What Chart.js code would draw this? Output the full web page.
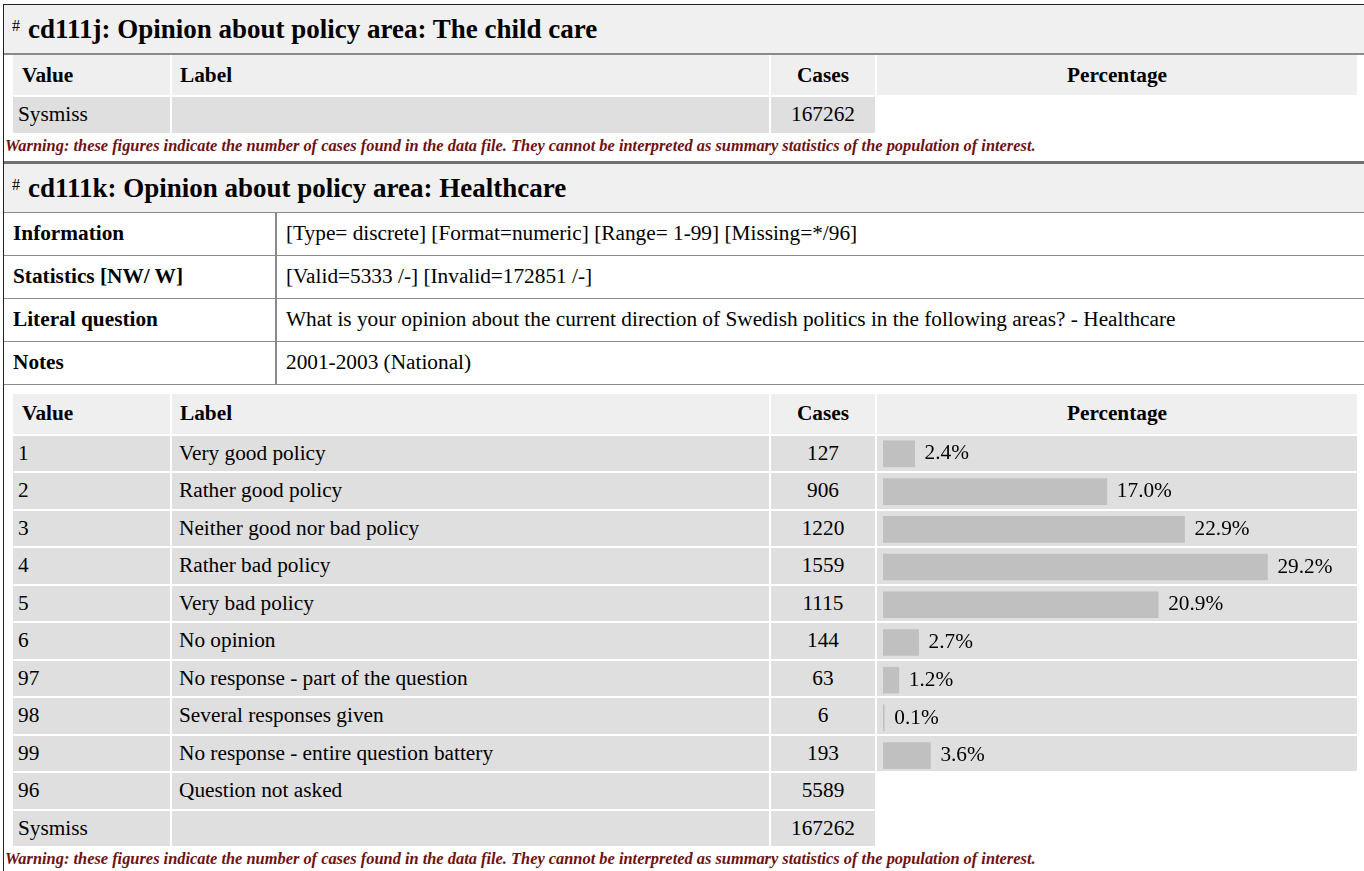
<!DOCTYPE html>
<html>
<head>
<meta charset="utf-8">
<script src="https://cdn.jsdelivr.net/npm/chart.js@4.4.1/dist/chart.umd.min.js"></script>
<style>
  html, body { margin: 0; padding: 0; background: #fff; overflow: hidden; }
  body { font-family: "Liberation Serif", "Times New Roman", serif; color: #000; width: 1364px; height: 871px; position: relative; }
  .box { position: absolute; left: 3px; top: 4px; width: 1363px; border: 1px solid #222; border-bottom: none; }
  .title { background: #f0f0f0; height: 48px; line-height: 48px; font-weight: bold; font-size: 27px; padding-left: 24px; position: relative; }
  .title .hash { position: absolute; left: 8px; top: -3px; font-size: 16px; font-weight: normal; }
  .t1 { border-bottom: 2px solid #8a8a8a; }
  .t2 { border-top: 3px solid #707070; border-bottom: 1px solid #8a8a8a; }
  .freq { border-collapse: collapse; margin-left: 9px; table-layout: fixed; }
  .freq td, .freq th { border-right: 2px solid #fff; border-bottom: 2px solid #fff; padding: 0; font-size: 21.3px; text-align: left; }
  .freq th { background: #efefef; height: 40px; font-weight: bold; }
  .freq td { background: #dfdfdf; height: 35.5px; }
  .freq td.nobg { background: transparent; }
  .freq th.c-val { padding-left: 9px; width: 148px; }
  .freq td.c-val { padding-left: 5px; width: 152px; }
  .freq th.c-lab { padding-left: 8px; width: 589px; }
  .freq td.c-lab { padding-left: 7px; width: 590px; }
  .freq .c-cas { width: 104px; text-align: center; }
  .freq .c-pct { width: 480px; text-align: center; border-right: none; }
  .warn { font-size: 16.4px; font-weight: bold; font-style: italic; color: #6e1212; padding-left: 1px; height: 26px; line-height: 22px; white-space: nowrap; }
  .info { border-collapse: collapse; width: 100%; }
  .info td { height: 42px; border-bottom: 1.5px solid #8a8a8a; font-size: 21.3px; padding: 0; }
  .info td.k { width: 262px; padding-left: 9px; font-weight: bold; border-right: 2px solid #8a8a8a; }
  .info td.v { padding-left: 9px; }
  .gap { height: 9px; }
  #pctChartWrap { position: absolute; }
</style>
</head>
<body>
<div class="box">
  <div class="title t1"><span class="hash">#</span>cd111j: Opinion about policy area: The child care</div>
  <table class="freq" id="tbl1"></table>
  <div class="warn">Warning: these figures indicate the number of cases found in the data file. They cannot be interpreted as summary statistics of the population of interest.</div>

  <div class="title t2"><span class="hash">#</span>cd111k: Opinion about policy area: Healthcare</div>
  <table class="info">
    <tr><td class="k">Information</td><td class="v">[Type= discrete] [Format=numeric] [Range= 1-99] [Missing=*/96]</td></tr>
    <tr><td class="k">Statistics [NW/ W]</td><td class="v">[Valid=5333 /-] [Invalid=172851 /-]</td></tr>
    <tr><td class="k">Literal question</td><td class="v">What is your opinion about the current direction of Swedish politics in the following areas? - Healthcare</td></tr>
    <tr><td class="k">Notes</td><td class="v">2001-2003 (National)</td></tr>
  </table>
  <div class="gap"></div>
  <table class="freq" id="tbl2"></table>
  <div class="warn">Warning: these figures indicate the number of cases found in the data file. They cannot be interpreted as summary statistics of the population of interest.</div>
</div>
<div id="pctChartWrap"><canvas id="pctChart"></canvas></div>

<script>
// Valid categories (with bars)
const codes = ['1', '2', '3', '4', '5', '6', '97', '98', '99'];
const labels = ['Very good policy', 'Rather good policy', 'Neither good nor bad policy', 'Rather bad policy',
  'Very bad policy', 'No opinion', 'No response - part of the question', 'Several responses given',
  'No response - entire question battery'];
const cases = [127, 906, 1220, 1559, 1115, 144, 63, 6, 193];
const percentages = [2.4, 17.0, 22.9, 29.2, 20.9, 2.7, 1.2, 0.1, 3.6];

// Missing categories (no bars)
const missCodes = ['96', 'Sysmiss'];
const missLabels = ['Question not asked', ''];
const missCases = [5589, 167262];

// child care variable only has sysmiss
const childCareMissCases = [167262];

const headerHtml = '<tr><th class="c-val">Value</th><th class="c-lab">Label</th><th class="c-cas">Cases</th><th class="c-pct">Percentage</th></tr>';

function rowHtml(code, label, n, withPct) {
    return `<tr><td class="c-val">${code}</td><td class="c-lab">${label}</td><td class="c-cas">${n}</td>` +
        `<td class="c-pct${withPct ? '' : ' nobg'}"></td></tr>`;
}

// Build tables
document.getElementById('tbl1').innerHTML = headerHtml + rowHtml('Sysmiss', '', childCareMissCases[0], false);

let html = headerHtml;
codes.forEach((c, i) => { html += rowHtml(c, labels[i], cases[i], true); });
missCodes.forEach((c, i) => { html += rowHtml(c, missLabels[i], missCases[i], false); });
document.getElementById('tbl2').innerHTML = html;

// Put the chart over the percentage cells of the valid rows
const pctCells = document.querySelectorAll('#tbl2 td.c-pct');
const firstRect = pctCells[0].getBoundingClientRect();
const lastRect = pctCells[codes.length - 1].getBoundingClientRect();
const wrap = document.getElementById('pctChartWrap');
wrap.style.left = firstRect.left + 'px';
wrap.style.top = firstRect.top + 'px';
wrap.style.width = firstRect.width + 'px';
wrap.style.height = (lastRect.bottom - firstRect.top + 2) + 'px';

// Percentage text next to each bar
const pctLabels = {
    id: 'pctLabels',
    afterDatasetsDraw(chart) {
        const ctx = chart.ctx;
        const meta = chart.getDatasetMeta(0);
        ctx.save();
        ctx.font = '21.3px "Liberation Serif", serif';
        ctx.fillStyle = '#000';
        ctx.textBaseline = 'middle';
        meta.data.forEach((bar, i) => {
            ctx.fillText(percentages[i].toFixed(1) + '%', bar.x + 10, bar.y);
        });
        ctx.restore();
    }
};

new Chart(document.getElementById('pctChart'), {
    type: 'bar',
    data: {
        labels: codes,
        datasets: [{
            data: percentages,
            backgroundColor: '#c0c0c0',
            borderWidth: 0,
            barThickness: 26
        }]
    },
    options: {
        indexAxis: 'y',
        responsive: true,
        maintainAspectRatio: false,
        animation: false,
        layout: { padding: { left: 7, right: 0, top: 0, bottom: 0 } },
        scales: {
            x: { display: false, min: 0, max: 36 },
            y: { display: false }
        },
        plugins: {
            legend: { display: false },
            tooltip: { enabled: false }
        }
    },
    plugins: [pctLabels]
});
</script>
</body>
</html>
